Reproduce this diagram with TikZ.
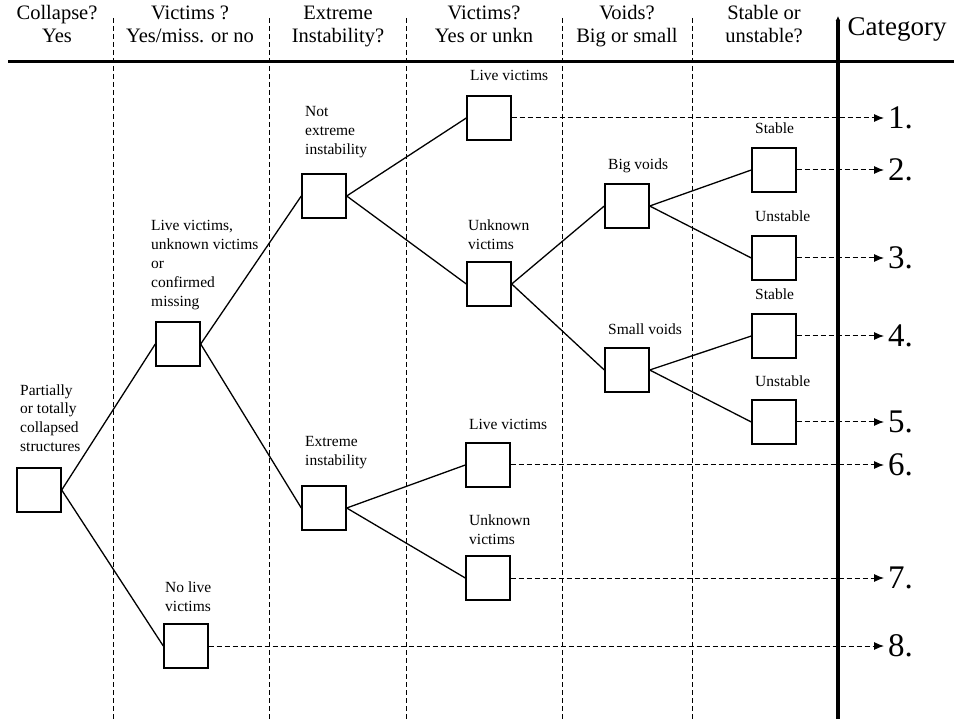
\documentclass[tikz,border=0pt]{standalone}
\usepackage{fontspec}
\setmainfont{Liberation Serif}
\usetikzlibrary{arrows.meta}
\begin{document}
\begin{tikzpicture}[x=1pt,y=-1pt,
  box/.style={draw,line width=1.4pt,minimum width=44pt,minimum height=44pt,inner sep=0pt},
  lbl/.style={font=\fontsize{15.5}{19}\selectfont,align=left,inner sep=0pt,anchor=base west},
  hdr/.style={font=\fontsize{20.5}{23}\selectfont,align=center,inner sep=0pt,anchor=base},
  num/.style={font=\fontsize{33}{33}\selectfont,anchor=west,inner sep=0pt},
  branch/.style={line width=1.3pt},
  sep/.style={line width=1pt,dash pattern=on 5pt off 3pt},
  catarrow/.style={line width=1pt,dash pattern=on 5pt off 3pt,shorten >=4pt,-{Latex[length=10pt,width=8pt]}}]
\fill[white] (0,0) rectangle (954,719);
\useasboundingbox (0,0) rectangle (954,719);

% header (anchor = baseline of last line)
\node[hdr] (h1) at (57,43) {Collapse?\\Yes};
\node[hdr] (h2) at (190,43) {Victims ?\\Yes/miss. or no};
\node[hdr] (h3) at (338,43) {Extreme\\Instability?};
\node[hdr] (h4) at (484,43) {Victims?\\Yes or unkn};
\node[hdr] (h5) at (627,43) {Voids?\\Big or small};
\node[hdr] (h6) at (764,43) {Stable or\\unstable?};
\node[font=\fontsize{27}{27}\selectfont,inner sep=0pt,anchor=base] (hc) at (897,36) {Category};

\coordinate (hl) at (8,62);
\coordinate (hr) at (954,62);
\draw[line width=3pt] (hl) -- (hr);

% column separators
\foreach \x/\n in {113/a,269/b,406/c,562/d,692/e}{
  \coordinate (t\n) at (\x,18);
  \coordinate (b\n) at (\x,719);
  \draw[sep] (t\n) -- (b\n);
}
\coordinate (tk) at (838,16);
\coordinate (bk) at (838,719);
\draw[line width=3.5pt,-{Latex[length=5pt,width=5pt]}] (bk) -- (tk);

% boxes
\node[box] (root) at (39,490) {};
\node[box] (lv) at (178,344) {};
\node[box] (nlv) at (186,646) {};
\node[box] (ne) at (324,196) {};
\node[box] (ei) at (324,508) {};
\node[box] (lv1) at (489,118) {};
\node[box] (uv1) at (489,284) {};
\node[box] (lv2) at (488,465) {};
\node[box] (uv2) at (488,578) {};
\node[box] (bv) at (627,206) {};
\node[box] (sv) at (627,370) {};
\node[box] (s2) at (774,170) {};
\node[box] (u3) at (774,258) {};
\node[box] (s4) at (774,336) {};
\node[box] (u5) at (774,422) {};

% labels (anchor = baseline of last line)
\node[lbl] (l0) at (20,452) {Partially\\or totally\\collapsed\\structures};
\node[lbl] (l1) at (151,307) {Live victims,\\unknown victims\\or\\confirmed\\missing};
\node[lbl] (l2) at (165,611) {No live\\victims};
\node[lbl] (l3) at (305,155) {Not\\extreme\\instability};
\node[lbl] (l4) at (305,465) {Extreme\\instability};
\node[lbl] (l5) at (470,81) {Live victims};
\node[lbl] (l6) at (468,250) {Unknown\\victims};
\node[lbl] (l7) at (469,430) {Live victims};
\node[lbl] (l8) at (469,544) {Unknown\\victims};
\node[lbl] (l9) at (608,170) {Big voids};
\node[lbl] (l10) at (608,335) {Small voids};
\node[lbl] (l11) at (755,134) {Stable};
\node[lbl] (l12) at (755,222) {Unstable};
\node[lbl] (l13) at (755,300) {Stable};
\node[lbl] (l14) at (755,387) {Unstable};

% branches
\draw[branch] (root.east) -- (lv.west);
\draw[branch] (root.east) -- (nlv.west);
\draw[branch] (lv.east) -- (ne.west);
\draw[branch] (lv.east) -- (ei.west);
\draw[branch] (ne.east) -- (lv1.west);
\draw[branch] (ne.east) -- (uv1.west);
\draw[branch] (ei.east) -- (lv2.west);
\draw[branch] (ei.east) -- (uv2.west);
\draw[branch] (uv1.east) -- (bv.west);
\draw[branch] (uv1.east) -- (sv.west);
\draw[branch] (bv.east) -- (s2.west);
\draw[branch] (bv.east) -- (u3.west);
\draw[branch] (sv.east) -- (s4.west);
\draw[branch] (sv.east) -- (u5.west);

% categories
\node[num] (n1) at (888,118) {1.};
\node[num] (n2) at (888,170) {2.};
\node[num] (n3) at (888,258) {3.};
\node[num] (n4) at (888,336) {4.};
\node[num] (n5) at (888,422) {5.};
\node[num] (n6) at (888,465) {6.};
\node[num] (n7) at (888,578) {7.};
\node[num] (n8) at (888,646) {8.};

\draw[catarrow] (lv1.east) -- (n1.west);
\draw[catarrow] (s2.east) -- (n2.west);
\draw[catarrow] (u3.east) -- (n3.west);
\draw[catarrow] (s4.east) -- (n4.west);
\draw[catarrow] (u5.east) -- (n5.west);
\draw[catarrow] (lv2.east) -- (n6.west);
\draw[catarrow] (uv2.east) -- (n7.west);
\draw[catarrow] (nlv.east) -- (n8.west);
\end{tikzpicture}
\end{document}
